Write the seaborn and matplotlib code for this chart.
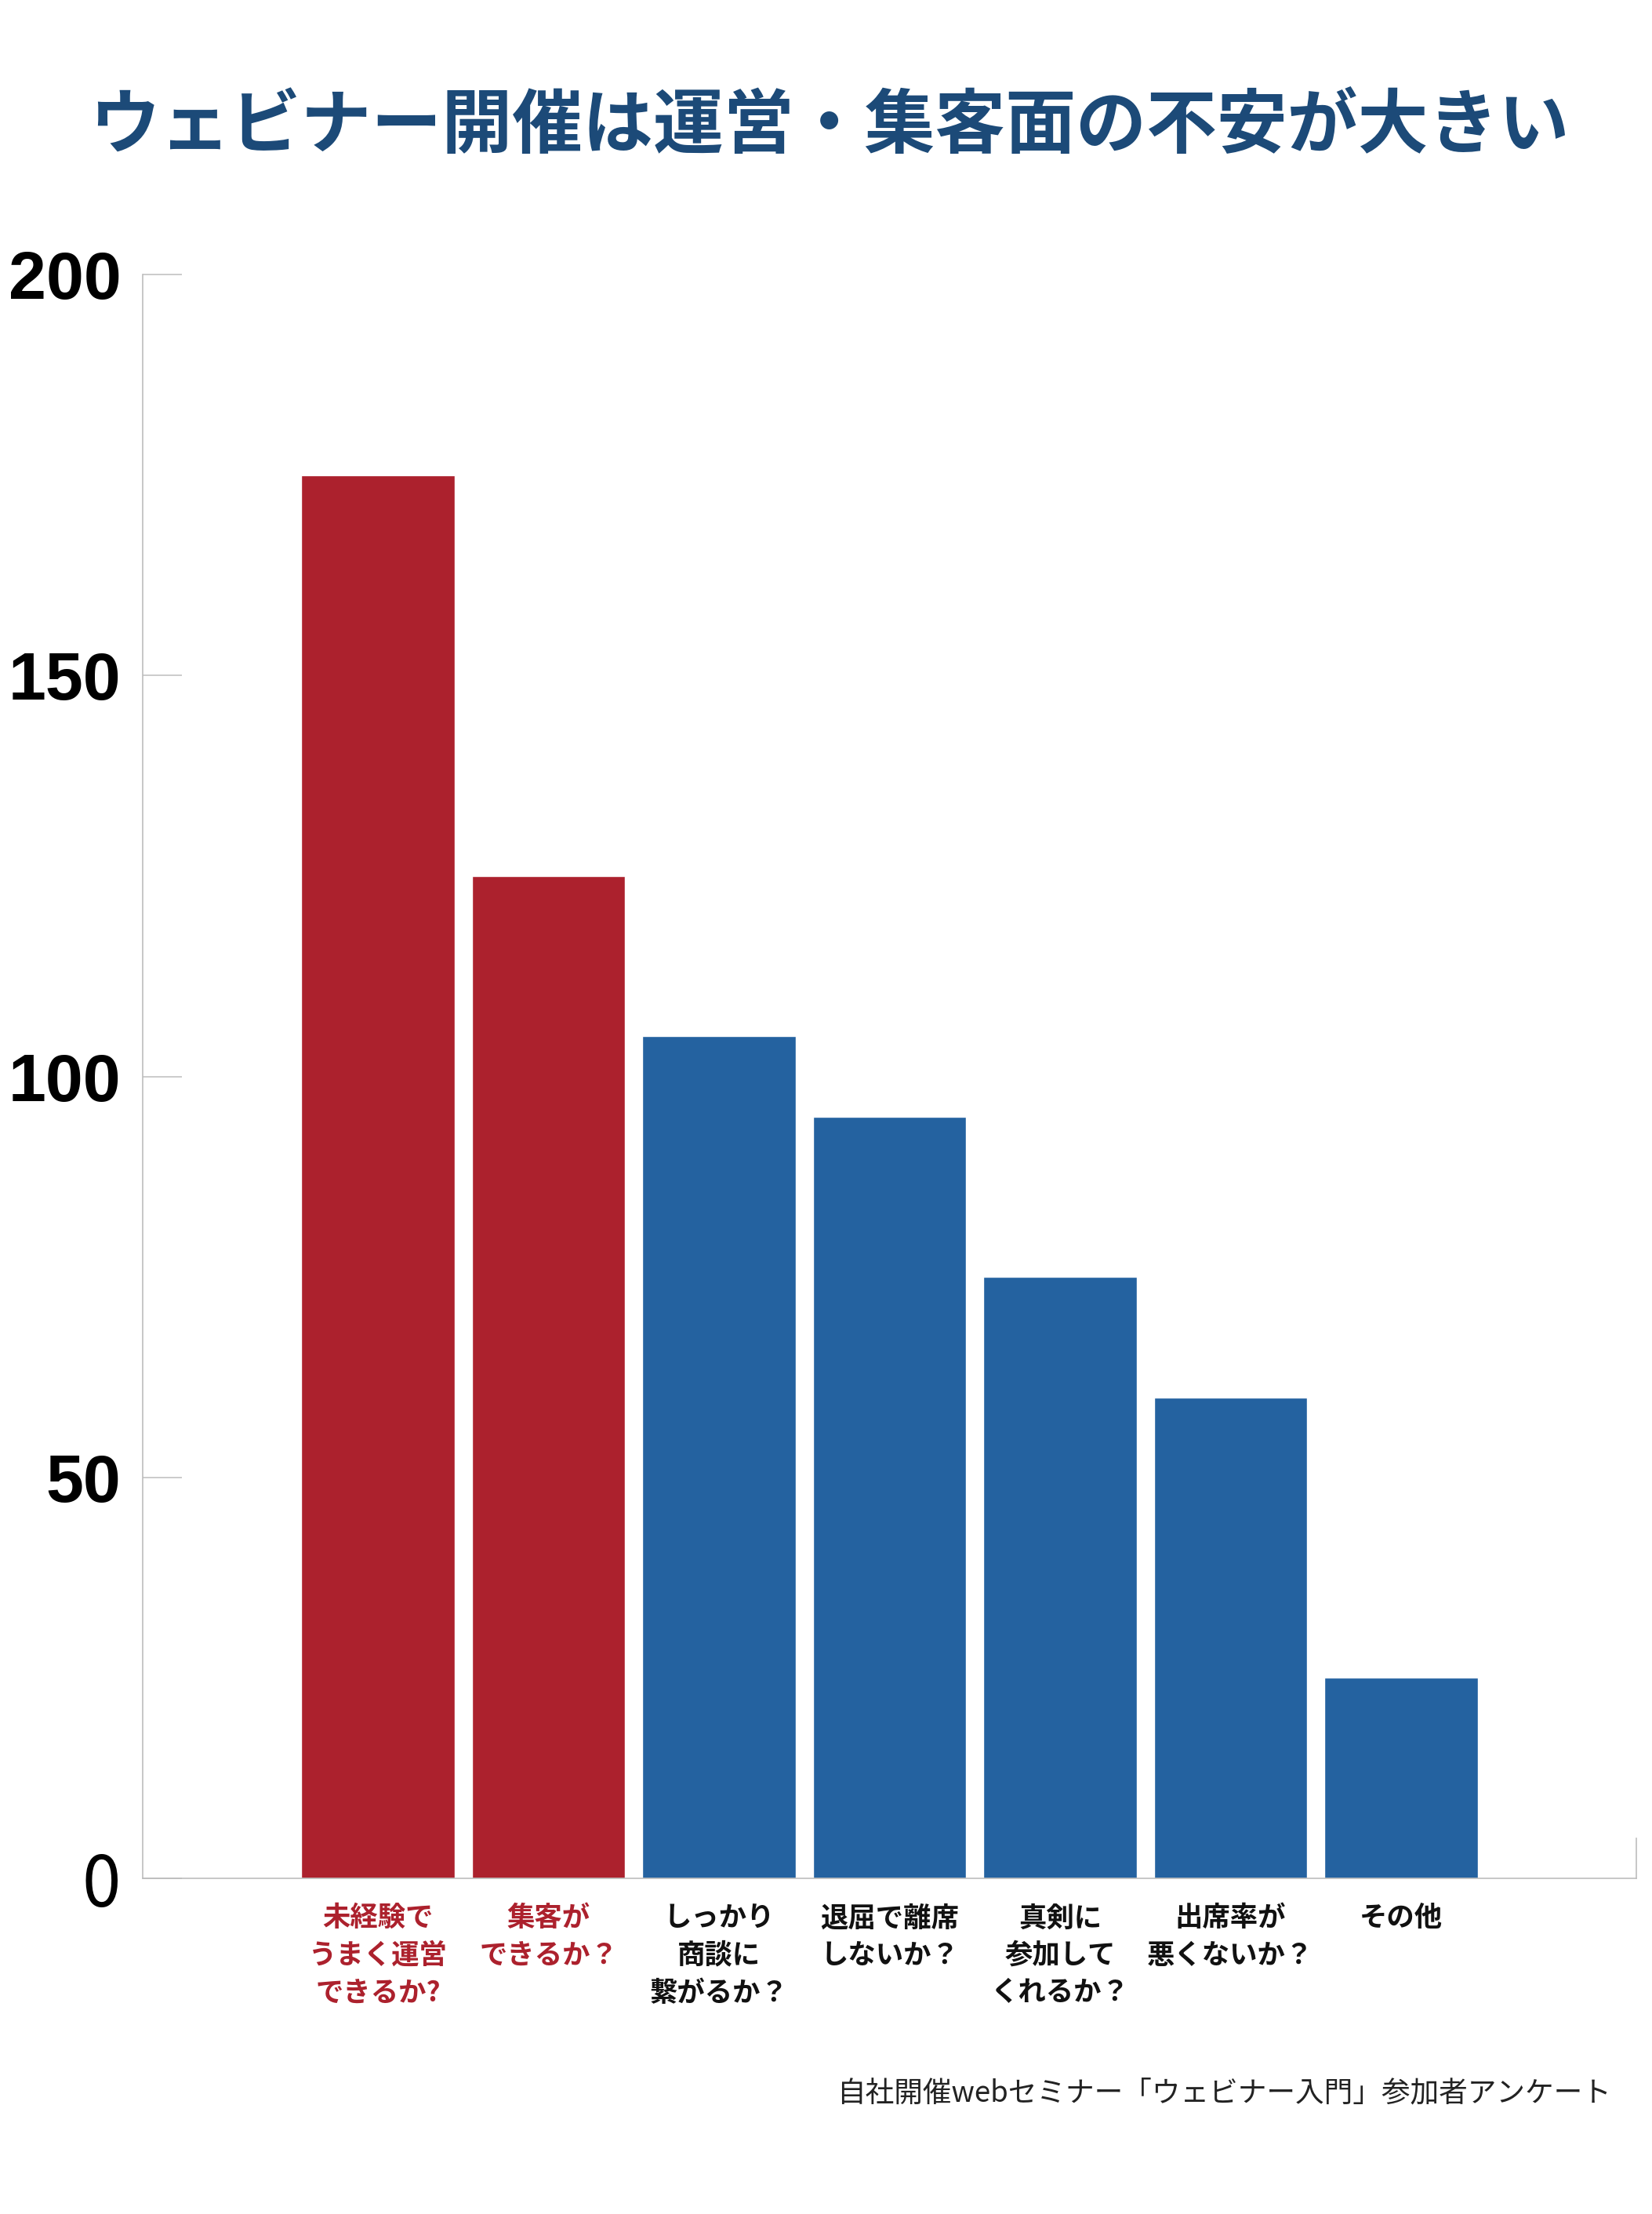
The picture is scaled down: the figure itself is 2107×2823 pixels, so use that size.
import matplotlib
matplotlib.use("Agg")
import matplotlib.pyplot as plt
import seaborn as sns
import pandas as pd

categories = [
    "未経験で\nうまく運営\nできるか?",
    "集客が\nできるか？",
    "しっかり\n商談に\n繋がるか？",
    "退屈で離席\nしないか？",
    "真剣に\n参加して\nくれるか？",
    "出席率が\n悪くないか？",
    "その他",
]
values = [175, 125, 105, 95, 75, 60, 25]
highlight = [True, True, False, False, False, False, False]
yticks = [0, 50, 100, 150, 200]

title = "ウェビナー開催は運営・集客面の不安が大きい"
source = "自社開催webセミナー「ウェビナー入門」参加者アンケート"

RED = "#AC212D"
BLUE = "#2462A0"
TITLE_C = "#1C4A78"
GREY = "#BDBDBD"

sns.set_theme(style="white")
plt.rcParams["font.family"] = ["Noto Sans CJK JP", "DejaVu Sans"]

df = pd.DataFrame({"cat": categories, "val": values})
colors = [RED if h else BLUE for h in highlight]
palette = dict(zip(categories, colors))

fig = plt.figure(figsize=(21.07, 28.23), dpi=100)
ax = fig.add_axes([0.0864, 0.1516, 0.9041, 0.7244])

sns.barplot(data=df, x="cat", y="val", hue="cat", palette=palette,
            legend=False, width=0.9, saturation=1, ax=ax)

ax.set_xlim(-1.38, len(categories) - 1 + 1.38)
ax.set_ylim(0, 200)
ax.set_yticks(yticks)
ax.set_xlabel("")
ax.set_ylabel("")

ax.spines["top"].set_visible(False)
for s in ["left", "bottom", "right"]:
    ax.spines[s].set_color(GREY)
    ax.spines[s].set_linewidth(1.2)
ax.spines["right"].set_bounds(0, 5)

ax.tick_params(axis="y", left=True, direction="in", length=36, width=1.1,
               color=GREY, pad=20)
ax.tick_params(axis="x", bottom=False, length=0, pad=24)

ax.set_yticklabels([str(v) for v in yticks])
for lab, v in zip(ax.get_yticklabels(), yticks):
    lab.set_color("black")
    if v == 0:
        lab.set_fontsize(64)
        lab.set_family(["Noto Sans CJK JP", "DejaVu Sans"])
        lab.set_fontweight("normal")
    else:
        lab.set_fontsize(62)
        lab.set_family(["Liberation Sans", "DejaVu Sans"])
        lab.set_fontweight("bold")

ax.set_xticks(range(len(categories)))
ax.set_xticklabels(categories)
for lab, h in zip(ax.get_xticklabels(), highlight):
    lab.set_fontsize(25.5)
    lab.set_fontweight("bold")
    lab.set_color(RED if h else "#111111")
    lab.set_linespacing(1.45)
    lab.set_verticalalignment("top")
    lab.set_multialignment("center")

fig.text(0.502, 0.9428, title, ha="center", va="center", fontsize=64.7,
         fontweight="bold", color=TITLE_C)
fig.text(0.9753, 0.0545, source, ha="right", va="center", fontsize=26.4,
         color="#222222")

fig.savefig("out.png", dpi=100, facecolor="white")
